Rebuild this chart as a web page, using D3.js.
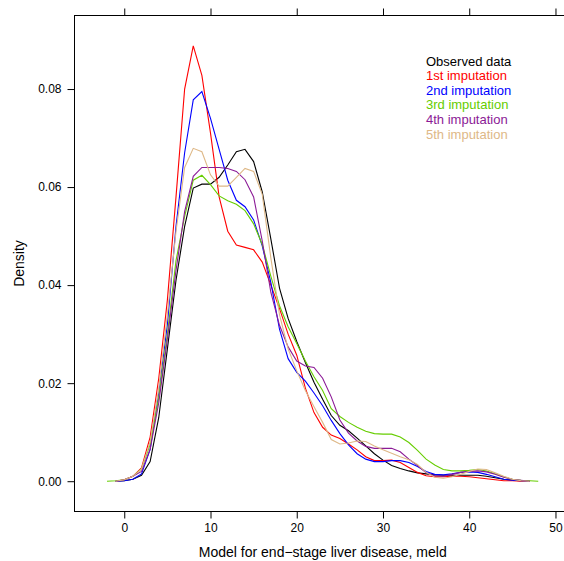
<!DOCTYPE html>
<html>
<head>
<meta charset="utf-8">
<script src="https://cdn.jsdelivr.net/npm/d3@7"></script>
<style>
  body { margin: 0; background: #fff; }
  svg text { font-family: "Liberation Sans", Arial, Helvetica, sans-serif; }
</style>
</head>
<body>
<div id="chart"></div>
<script>
// evaluation grid of the density curves (meld)
const meldGrid = [-2, -1, 0, 1, 2, 3, 4, 5, 6, 7, 8, 9, 10, 11, 12, 13, 14, 15, 16, 17, 18, 19, 20,
  21, 22, 23, 24, 25, 26, 27, 28, 29, 30, 31, 32, 33, 34, 35, 36, 37, 38, 39, 40, 41, 42, 43, 44, 45, 46, 47, 48];

const observed = [null, 0, 0.0001, 0.0004, 0.0012, 0.004, 0.013, 0.027, 0.041, 0.052, 0.0598, 0.0606, 0.0606, 0.062, 0.0645,
  0.0672, 0.0677, 0.0652, 0.059, 0.0494, 0.0394, 0.0332, 0.0285, 0.0242, 0.0202, 0.0167, 0.0134, 0.0114, 0.0103, 0.0088,
  0.0072, 0.0056, 0.0043, 0.0032, 0.0026, 0.0021, 0.0017, 0.0015, 0.0013, 0.0012, 0.0012, 0.0012, 0.0012, 0.0012, 0.001,
  0.0007, 0.0004, 0.0002, 0.0001, 0, null];
const imp1 = [null, 0, 0.0003, 0.001, 0.0027, 0.009, 0.021, 0.037, 0.058, 0.08, 0.0888, 0.0828, 0.071, 0.058, 0.051,
  0.0482, 0.0477, 0.0472, 0.0447, 0.040, 0.0352, 0.030, 0.0257, 0.019, 0.014, 0.011, 0.0094, 0.0087, 0.0076, 0.0064,
  0.005, 0.0042, 0.0042, 0.0043, 0.0038, 0.0028, 0.0018, 0.0011, 0.0009, 0.0009, 0.001, 0.001, 0.0009, 0.0007, 0.0005,
  0.0003, 0.0001, 0.0001, 0, 0, null];
const imp2 = [null, 0, 0.0001, 0.0004, 0.0015, 0.0065, 0.018, 0.032, 0.052, 0.067, 0.0778, 0.0795, 0.074, 0.0677, 0.0614,
  0.0573, 0.056, 0.0533, 0.048, 0.0405, 0.031, 0.025, 0.0222, 0.0204, 0.018, 0.0154, 0.0124, 0.0097, 0.0074, 0.0056,
  0.0045, 0.004, 0.004, 0.0042, 0.0042, 0.0038, 0.003, 0.002, 0.0014, 0.0013, 0.0015, 0.0018, 0.0019, 0.0018, 0.0014,
  0.0009, 0.0004, 0.0002, 0.0001, 0, null];
const imp3 = [0, 0.0001, 0.0003, 0.001, 0.0025, 0.0075, 0.017, 0.03, 0.045, 0.054, 0.0614, 0.0624, 0.0605, 0.0582, 0.0572,
  0.0565, 0.0552, 0.0525, 0.0483, 0.0418, 0.0358, 0.0315, 0.0281, 0.0245, 0.0213, 0.0185, 0.0148, 0.0132, 0.012, 0.011,
  0.0102, 0.0097, 0.0096, 0.0096, 0.009, 0.0079, 0.0063, 0.0045, 0.0033, 0.0024, 0.0021, 0.0021, 0.0022, 0.0024, 0.0021,
  0.0015, 0.0009, 0.0004, 0.0002, 0.0001, 0];
const imp4 = [null, 0, 0.0003, 0.001, 0.002, 0.0065, 0.016, 0.029, 0.043, 0.055, 0.0622, 0.064, 0.064, 0.064, 0.0638,
  0.0632, 0.0615, 0.058, 0.049, 0.0385, 0.0318, 0.0274, 0.0245, 0.0235, 0.0232, 0.021, 0.0172, 0.0125, 0.0098, 0.0082,
  0.0071, 0.0067, 0.0067, 0.0067, 0.006, 0.0045, 0.0032, 0.0017, 0.0011, 0.001, 0.0014, 0.0018, 0.002, 0.0021, 0.0019,
  0.0014, 0.0008, 0.0004, 0.0002, 0, null];
const imp5 = [null, 0, 0.0003, 0.001, 0.0025, 0.008, 0.019, 0.034, 0.051, 0.064, 0.0679, 0.0672, 0.0625, 0.0602, 0.0602,
  0.062, 0.0638, 0.0632, 0.0585, 0.0455, 0.034, 0.027, 0.0225, 0.0185, 0.0152, 0.012, 0.0085, 0.0076, 0.0078, 0.0082,
  0.0081, 0.0072, 0.0064, 0.0057, 0.005, 0.0044, 0.0034, 0.0018, 0.0008, 0.0006, 0.0009, 0.0014, 0.002, 0.0025, 0.0024,
  0.0017, 0.001, 0.0004, 0.0001, 0, null];

const seriesNames = ["Observed data", "1st imputation", "2nd imputation", "3rd imputation", "4th imputation", "5th imputation"];
const seriesColors = ["#000000", "#ff0000", "#0000ff", "#66cd00", "#8b1a96", "#deb887"];
const seriesValues = [observed, imp1, imp2, imp3, imp4, imp5];

const xTicks = [0, 10, 20, 30, 40, 50];
const yTicks = [0, 0.02, 0.04, 0.06, 0.08];

const W = 564, H = 561;
const box = { left: 74.5, right: 571, top: 15.5, bottom: 511.5 };

const svg = d3.select("#chart")
  .append("svg")
  .attr("width", W)
  .attr("height", H);

const x = d3.scaleLinear().domain([-5.77, 51.8]).range([box.left, box.right]);
const y = d3.scaleLinear().domain([-0.00618, 0.095]).range([box.bottom, box.top]);

// frame
svg.append("rect")
  .attr("x", box.left).attr("y", box.top)
  .attr("width", box.right - box.left).attr("height", box.bottom - box.top)
  .attr("fill", "none").attr("stroke", "#000").attr("stroke-width", 1);

function styleAxis(g) {
  g.select(".domain").remove();
  g.selectAll(".tick line").attr("stroke", "#000");
  g.selectAll(".tick text").attr("fill", "#000").style("font-size", "12px");
}

svg.append("g")
  .attr("transform", `translate(0,${box.bottom})`)
  .call(d3.axisBottom(x).tickValues(xTicks).tickSize(7).tickPadding(5).tickFormat(d3.format("d")))
  .call(styleAxis);

svg.append("g")
  .attr("transform", `translate(0,${box.top})`)
  .call(d3.axisTop(x).tickValues(xTicks).tickSize(7).tickFormat(""))
  .call(styleAxis);

svg.append("g")
  .attr("transform", `translate(${box.left},0)`)
  .call(d3.axisLeft(y).tickValues(yTicks).tickSize(7).tickPadding(6).tickFormat(d3.format(".2f")))
  .call(styleAxis);

svg.append("g")
  .attr("transform", `translate(${box.right},0)`)
  .call(d3.axisRight(y).tickValues(yTicks).tickSize(7).tickFormat(""))
  .call(styleAxis);

// curves
const line = d3.line()
  .defined(d => d[1] !== null)
  .x(d => x(d[0]))
  .y(d => y(d[1]));

svg.append("g")
  .selectAll("path")
  .data(seriesValues)
  .enter()
  .append("path")
  .attr("d", vals => line(meldGrid.map((m, i) => [m, vals[i]])))
  .attr("fill", "none")
  .attr("stroke", (d, i) => seriesColors[i])
  .attr("stroke-width", 1.1);

// legend
svg.append("g")
  .selectAll("text")
  .data(seriesNames)
  .enter()
  .append("text")
  .attr("x", 426)
  .attr("y", (d, i) => 65.5 + i * 14.6)
  .attr("fill", (d, i) => seriesColors[i])
  .style("font-size", "13px")
  .text(d => d);

// axis titles
svg.append("text")
  .attr("x", (box.left + box.right) / 2)
  .attr("y", 557)
  .attr("text-anchor", "middle")
  .style("font-size", "14px")
  .text("Model for end\u2212stage liver disease, meld");

svg.append("text")
  .attr("transform", "translate(24,263.5) rotate(-90)")
  .attr("text-anchor", "middle")
  .style("font-size", "14px")
  .text("Density");
</script>
</body>
</html>
